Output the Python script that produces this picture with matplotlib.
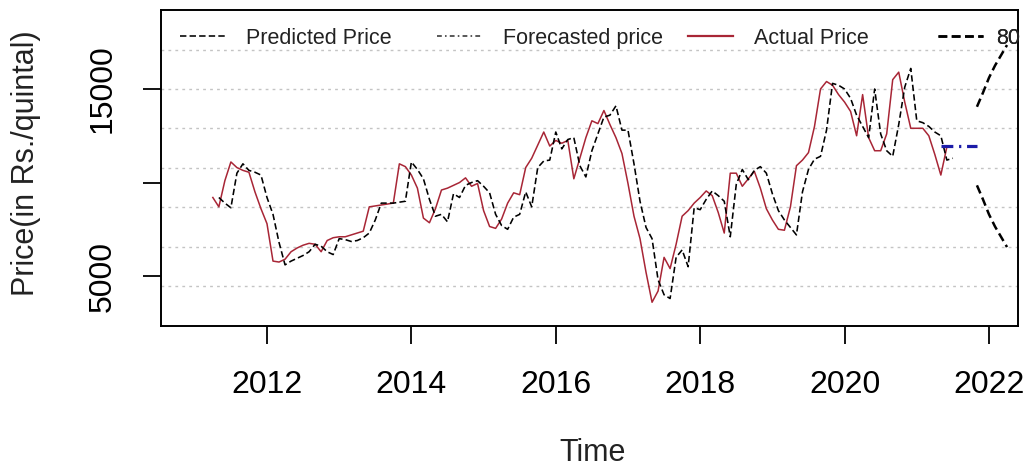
import numpy as np
import matplotlib
matplotlib.use("Agg")
import matplotlib.pyplot as plt
from matplotlib.lines import Line2D

# ---------------- data ----------------
actual_start = 2011.25          # April 2011, monthly
actual_price = [
    9200, 8700, 10100, 11100, 10800, 10650, 10550, 9500, 8600, 7800,
    5800, 5750, 5900, 6300, 6500, 6650, 6750, 6700, 6300, 6900,
    7050, 7100, 7100, 7200, 7300, 7400, 8700, 8750, 8800, 8850,
    8900, 11000, 10850, 10400, 9700, 8100, 7850, 8600, 9600, 9700,
    9850, 10000, 10250, 9800, 9950, 8500, 7650, 7550, 8050, 8900,
    9450, 9350, 10800, 11300, 12000, 12700, 11950, 12250, 12100, 12250,
    10200, 11300, 12400, 13300, 13150, 13850, 13100, 12400, 11550, 9950,
    8200, 7000, 5200, 3600, 4200, 6000, 5400, 6700, 8200, 8500,
    8900, 9200, 9550, 9300, 8400, 7300, 10500, 10500, 9800, 10200,
    10600, 9700, 8600, 8000, 7500, 7450, 8700, 10900, 11200, 11600,
    13000, 15000, 15400, 15200, 14700, 14300, 13800, 12500, 14700, 12400,
    11700, 11700, 12600, 15500, 15900, 14300, 12900, 12900, 12900, 12500,
    11500, 10400, 11900,
]

predicted_start = 2011.3333     # one month after the first actual value
predicted_price = [
    9200, 8900, 8650, 10500, 11000, 10650, 10550, 10400, 9200, 8300,
    6800, 5600, 5800, 5950, 6100, 6300, 6700, 6600, 6300, 6150,
    7000, 6950, 6850, 6900, 7050, 7300, 8000, 8900, 8900, 8900,
    8950, 9000, 11100, 10700, 10200, 9100, 8200, 8300, 7900, 9400,
    9200, 9850, 10000, 10100, 9800, 9450, 8300, 7700, 7500, 8150,
    8300, 9500, 8700, 10800, 11150, 11200, 12700, 11800, 12300, 12400,
    10900, 10300, 11700, 12600, 13500, 13600, 14100, 12800, 12800, 11000,
    9000, 7600, 7000, 4800, 4000, 3800, 6000, 6400, 5500, 8650,
    8550, 9100, 9550, 9300, 9000, 7100, 9900, 10700, 10150, 10650,
    10850, 10500, 9400, 8500, 8000, 7600, 7200, 9500, 10700, 11250,
    11400, 12800, 15300, 15200, 15000, 14500, 13600, 13000, 12400, 15000,
    12600, 11700, 11400, 13100, 15100, 16100, 13300, 13200, 13000, 12700,
    12500, 11200, 11300,
]

forecast_start = 2021.3333
forecast_price = [11950, 11950, 11950, 11950, 11950, 11950, 11950]

interval_start = 2021.8333
upper_80 = [14050, 14800, 15600, 16250, 16800, 17350]
lower_80 = [9850, 9100, 8300, 7650, 7100, 6550]

x_ticks = [2012, 2014, 2016, 2018, 2020, 2022]
y_ticks = [5000, 15000]
y_tick_labels = ["5000", "15000"]
y_minor_tick = [10000]

legend_labels = ["Predicted Price", "Forecasted price", "Actual Price", "80"]

# ---------------- figure ----------------
plt.rcParams['font.family'] = ['Liberation Sans', 'DejaVu Sans']

fig = plt.figure(figsize=(10.26, 4.69), dpi=100)
ax = fig.add_axes([161/1026, 1-326/469, (1018-161)/1026, 316/469])

def monthly(start, n):
    return start + np.arange(n) / 12.0

t_act = monthly(actual_start, len(actual_price))
t_pred = monthly(predicted_start, len(predicted_price))
t_fc = monthly(forecast_start, len(forecast_price))
t_int = monthly(interval_start, len(upper_80))

ylim = (2331, 19223)
xlim = (2010.532, 2022.402)
ax.set_xlim(*xlim)
ax.set_ylim(*ylim)

# horizontal dotted grid (8 equal divisions of the y range)
for g in np.linspace(ylim[0], ylim[1], 9)[1:-1]:
    ax.axhline(g, color='#c4c4c4', lw=1.0, ls=(0, (2, 3)), zorder=0)

red = '#a82636'
ax.plot(t_act, actual_price, color=red, lw=1.1, zorder=2)
ax.plot(t_pred, predicted_price, color='black', lw=1.15, ls=(0, (4, 2)), zorder=3)
ax.plot(t_fc, forecast_price, color='#1c1ca8', lw=2.3, ls=(0, (3.7, 1.8, 0.7, 1.8)), zorder=4)
ax.plot(t_int, upper_80, color='black', lw=1.8, ls=(0, (3.5, 1.8)), zorder=3)
ax.plot(t_int, lower_80, color='black', lw=1.8, ls=(0, (3.5, 1.8)), zorder=3)

# axes / ticks
ax.set_xticks(x_ticks)
ax.set_xticklabels([str(x) for x in x_ticks])
ax.set_yticks(y_ticks + y_minor_tick)
ax.set_yticklabels(y_tick_labels + [""])
ax.tick_params(axis='x', length=13, width=1.3, pad=19, labelsize=23, colors='black')
ax.tick_params(axis='y', length=13, width=1.3, pad=18, labelsize=23, colors='black')
for lab in ax.get_yticklabels():
    lab.set_rotation(90)
    lab.set_va('center')
for s in ax.spines.values():
    s.set_linewidth(1.4)
    s.set_color('black')

ax.set_ylabel("Price(in Rs./quintal)", fontsize=22, color='#222222', va='center')
ax.yaxis.set_label_coords((26-161)/857, (326-163)/316)
ax.set_xlabel("Time", fontsize=22, color='#222222', va='center')
ax.xaxis.set_label_coords((593-161)/857, (326-453)/316)

# legend entries (horizontal, no box)
handles = [
    Line2D([], [], color='black', lw=1.15, ls=(0, (4, 2))),
    Line2D([], [], color='#333333', lw=1.15, ls=(0, (3, 2, 1, 2))),
    Line2D([], [], color=red, lw=1.6),
    Line2D([], [], color='black', lw=1.8, ls=(0, (3.5, 1.8))),
]
x_leg = [(180-161)/857, (437-161)/857, (688-161)/857, (938-161)/857]
pads = [0.95, 0.95, 0.95, 0.6]
y_leg = (326-38)/316
for h, lab, xl, pd in zip(handles, legend_labels, x_leg, pads):
    leg = ax.legend([h], [lab], loc='center left', bbox_to_anchor=(xl, y_leg),
                    frameon=False, fontsize=15.5, handlelength=2.1,
                    handletextpad=pd, borderpad=0, borderaxespad=0)
    for t in leg.get_texts():
        t.set_color('#222222')
    ax.add_artist(leg)

fig.savefig("out.png", dpi=100)
